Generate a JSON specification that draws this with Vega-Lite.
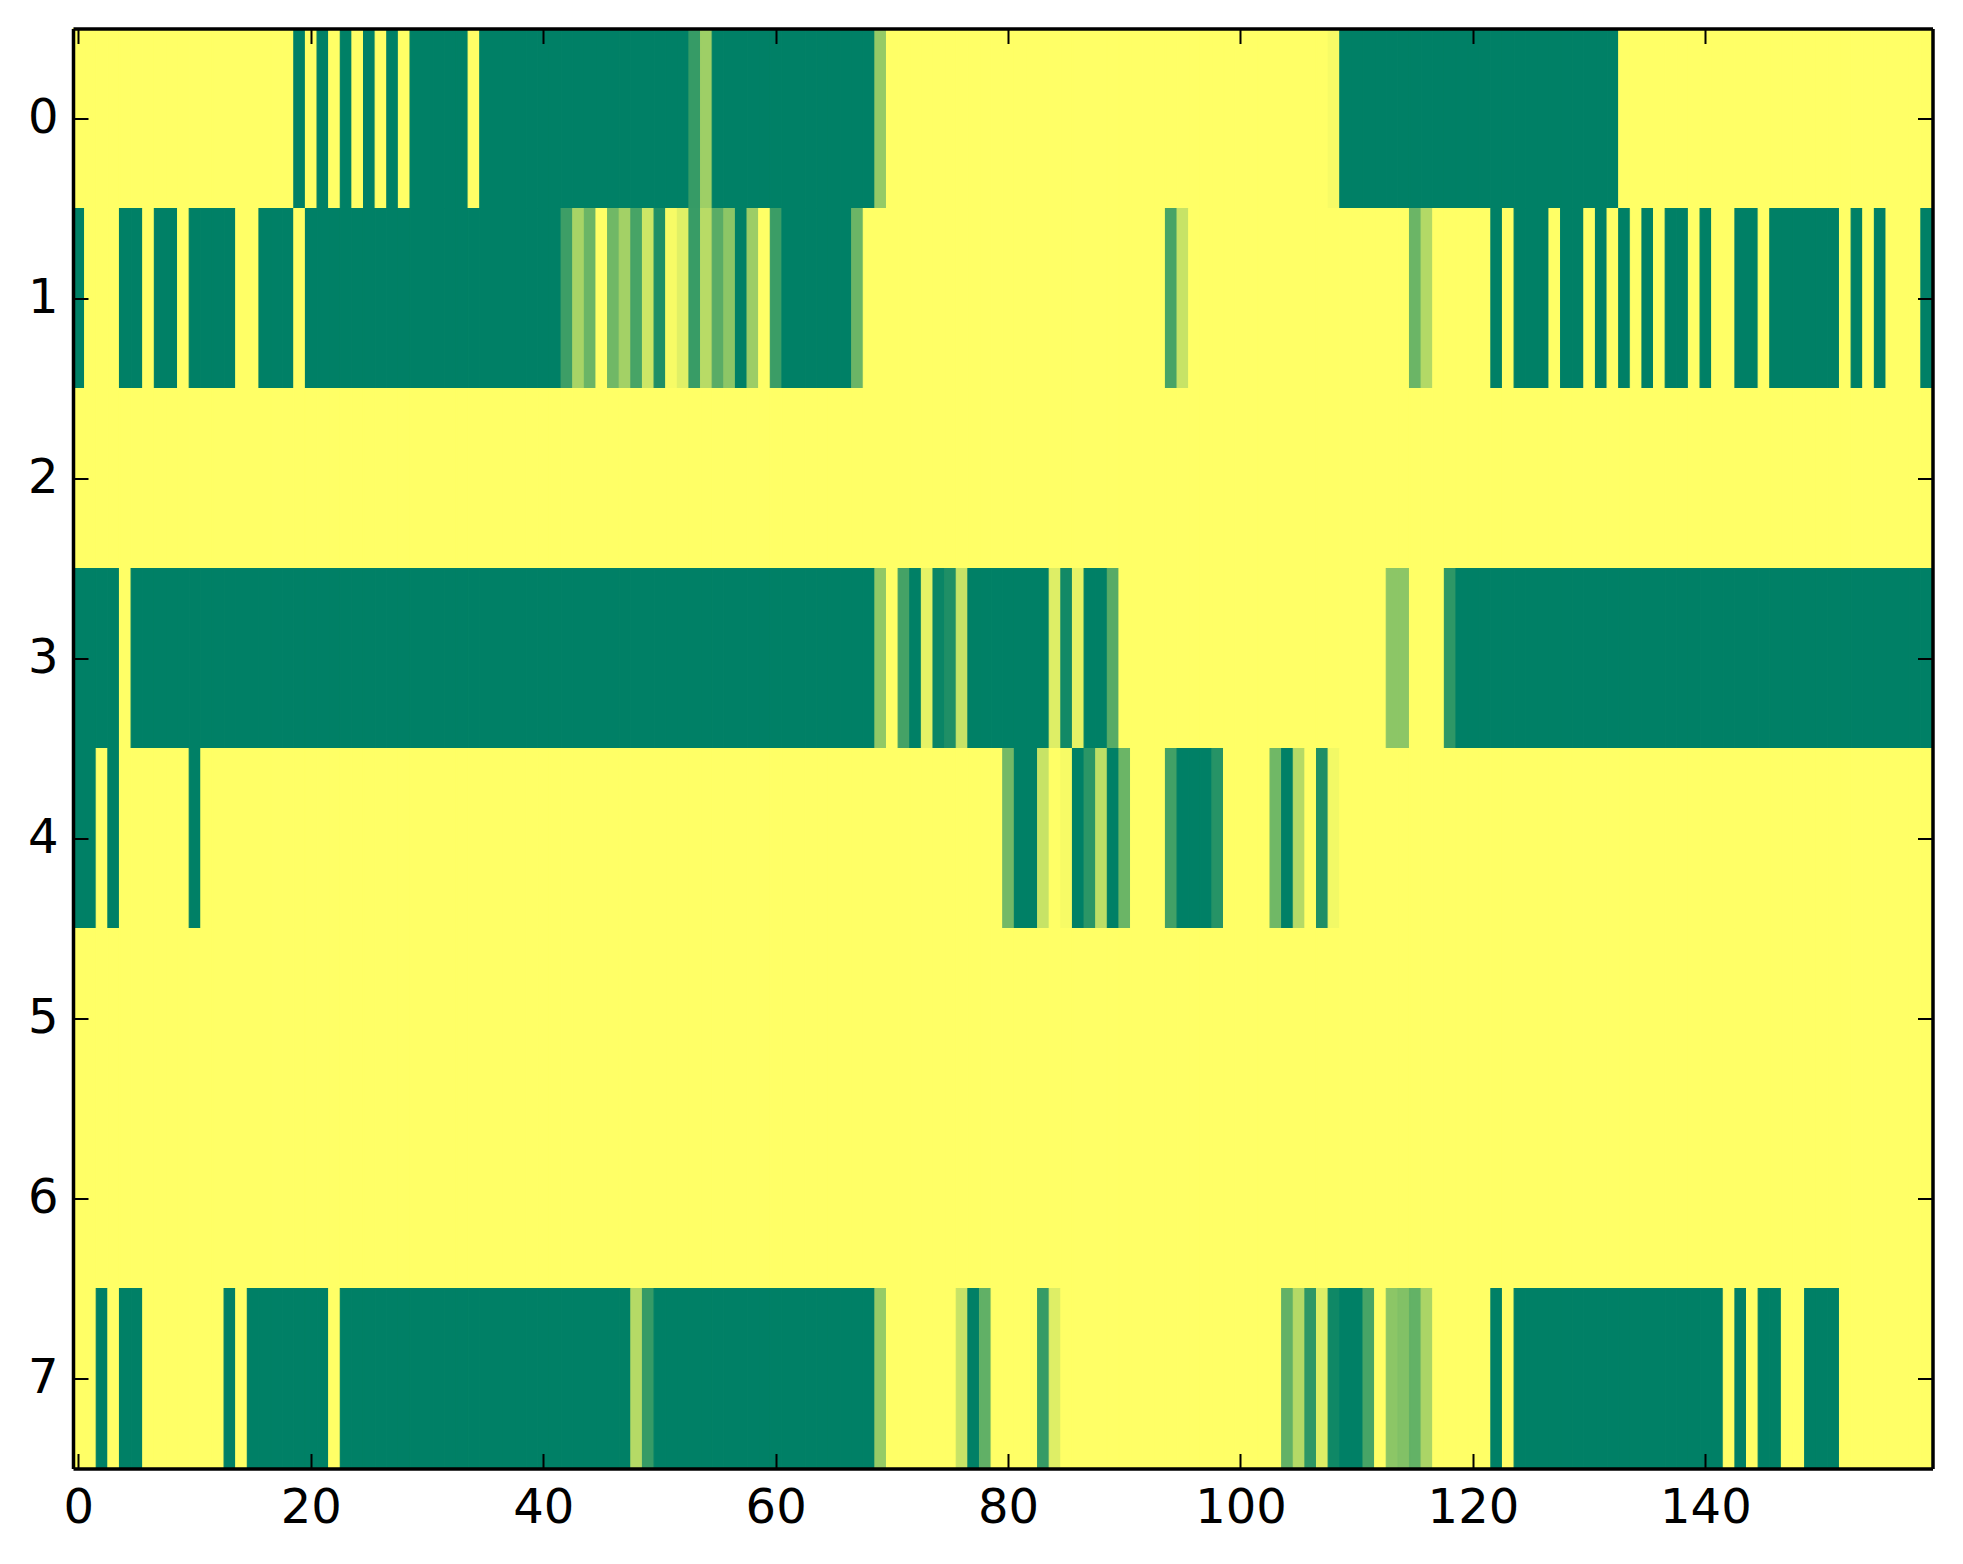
{
"$schema":"https://vega.github.io/schema/vega-lite/v6.json",
"width":1859.5,
"height":1440,
"autosize":"none",
"padding":{"left":73,"top":28.5,"right":30.5,"bottom":95.5},
"background":"white",
"config":{
"view":{"stroke":null},
"axis":{"title":null,"grid":false,"domainColor":"black","domainWidth":3.5,"tickColor":"black","tickWidth":2,"tickSize":-15,"labelFont":"DejaVu Sans","labelFontSize":48,"labelColor":"black","labelAngle":0}
},
"resolve":{"axis":{"x":"independent","y":"independent"}},
"layer":[
{"mark":{"type":"rect","strokeWidth":1.1},
"encoding":{
"x":{"field":"x","type":"ordinal","scale":{"paddingInner":0,"paddingOuter":0},"axis":{"orient":"bottom","zindex":1,"labelPadding":31,"values":[0,20,40,60,80,100,120,140]}},
"y":{"field":"y","type":"ordinal","scale":{"paddingInner":0,"paddingOuter":0},"axis":{"orient":"left","zindex":1,"labelPadding":30}},
"color":{"field":"v","type":"quantitative","scale":{"domain":[0,1],"range":["#ffff66","#008066"],"interpolate":"rgb"},"legend":null},
"stroke":{"field":"v","type":"quantitative","scale":{"domain":[0,1],"range":["#ffff66","#008066"],"interpolate":"rgb"},"legend":null}
}},
{"mark":{"type":"rect","opacity":0},
"encoding":{
"x":{"field":"x","type":"ordinal","axis":{"orient":"top","zindex":1,"values":[0,20,40,60,80,100,120,140],"labels":false}},
"y":{"field":"y","type":"ordinal","axis":{"orient":"right","zindex":1,"labels":false}}
}}
],
"data":{"values":[
{"x":0,"y":0,"v":0},{"x":1,"y":0,"v":0},{"x":2,"y":0,"v":0},{"x":3,"y":0,"v":0},{"x":4,"y":0,"v":0},{"x":5,"y":0,"v":0},{"x":6,"y":0,"v":0},{"x":7,"y":0,"v":0},{"x":8,"y":0,"v":0},{"x":9,"y":0,"v":0},
{"x":10,"y":0,"v":0},{"x":11,"y":0,"v":0},{"x":12,"y":0,"v":0},{"x":13,"y":0,"v":0},{"x":14,"y":0,"v":0},{"x":15,"y":0,"v":0},{"x":16,"y":0,"v":0},{"x":17,"y":0,"v":0},{"x":18,"y":0,"v":0},{"x":19,"y":0,"v":1},
{"x":20,"y":0,"v":0},{"x":21,"y":0,"v":1},{"x":22,"y":0,"v":0},{"x":23,"y":0,"v":1},{"x":24,"y":0,"v":0},{"x":25,"y":0,"v":1},{"x":26,"y":0,"v":0},{"x":27,"y":0,"v":1},{"x":28,"y":0,"v":0},{"x":29,"y":0,"v":1},
{"x":30,"y":0,"v":1},{"x":31,"y":0,"v":1},{"x":32,"y":0,"v":1},{"x":33,"y":0,"v":1},{"x":34,"y":0,"v":0},{"x":35,"y":0,"v":1},{"x":36,"y":0,"v":1},{"x":37,"y":0,"v":1},{"x":38,"y":0,"v":1},{"x":39,"y":0,"v":1},
{"x":40,"y":0,"v":1},{"x":41,"y":0,"v":1},{"x":42,"y":0,"v":1},{"x":43,"y":0,"v":1},{"x":44,"y":0,"v":1},{"x":45,"y":0,"v":1},{"x":46,"y":0,"v":1},{"x":47,"y":0,"v":1},{"x":48,"y":0,"v":1},{"x":49,"y":0,"v":1},
{"x":50,"y":0,"v":1},{"x":51,"y":0,"v":1},{"x":52,"y":0,"v":1},{"x":53,"y":0,"v":0.79},{"x":54,"y":0,"v":0.38},{"x":55,"y":0,"v":1},{"x":56,"y":0,"v":1},{"x":57,"y":0,"v":1},{"x":58,"y":0,"v":1},{"x":59,"y":0,"v":1},
{"x":60,"y":0,"v":1},{"x":61,"y":0,"v":1},{"x":62,"y":0,"v":1},{"x":63,"y":0,"v":1},{"x":64,"y":0,"v":1},{"x":65,"y":0,"v":1},{"x":66,"y":0,"v":1},{"x":67,"y":0,"v":1},{"x":68,"y":0,"v":1},{"x":69,"y":0,"v":0.42},
{"x":70,"y":0,"v":0},{"x":71,"y":0,"v":0},{"x":72,"y":0,"v":0},{"x":73,"y":0,"v":0},{"x":74,"y":0,"v":0},{"x":75,"y":0,"v":0},{"x":76,"y":0,"v":0},{"x":77,"y":0,"v":0},{"x":78,"y":0,"v":0},{"x":79,"y":0,"v":0},
{"x":80,"y":0,"v":0},{"x":81,"y":0,"v":0},{"x":82,"y":0,"v":0},{"x":83,"y":0,"v":0},{"x":84,"y":0,"v":0},{"x":85,"y":0,"v":0},{"x":86,"y":0,"v":0},{"x":87,"y":0,"v":0},{"x":88,"y":0,"v":0},{"x":89,"y":0,"v":0},
{"x":90,"y":0,"v":0},{"x":91,"y":0,"v":0},{"x":92,"y":0,"v":0},{"x":93,"y":0,"v":0},{"x":94,"y":0,"v":0},{"x":95,"y":0,"v":0},{"x":96,"y":0,"v":0},{"x":97,"y":0,"v":0},{"x":98,"y":0,"v":0},{"x":99,"y":0,"v":0},
{"x":100,"y":0,"v":0},{"x":101,"y":0,"v":0},{"x":102,"y":0,"v":0},{"x":103,"y":0,"v":0},{"x":104,"y":0,"v":0},{"x":105,"y":0,"v":0},{"x":106,"y":0,"v":0},{"x":107,"y":0,"v":0},{"x":108,"y":0,"v":0.03},{"x":109,"y":0,"v":1},
{"x":110,"y":0,"v":1},{"x":111,"y":0,"v":1},{"x":112,"y":0,"v":1},{"x":113,"y":0,"v":1},{"x":114,"y":0,"v":1},{"x":115,"y":0,"v":1},{"x":116,"y":0,"v":1},{"x":117,"y":0,"v":1},{"x":118,"y":0,"v":1},{"x":119,"y":0,"v":1},
{"x":120,"y":0,"v":1},{"x":121,"y":0,"v":1},{"x":122,"y":0,"v":1},{"x":123,"y":0,"v":1},{"x":124,"y":0,"v":1},{"x":125,"y":0,"v":1},{"x":126,"y":0,"v":1},{"x":127,"y":0,"v":1},{"x":128,"y":0,"v":1},{"x":129,"y":0,"v":1},
{"x":130,"y":0,"v":1},{"x":131,"y":0,"v":1},{"x":132,"y":0,"v":1},{"x":133,"y":0,"v":0},{"x":134,"y":0,"v":0},{"x":135,"y":0,"v":0},{"x":136,"y":0,"v":0},{"x":137,"y":0,"v":0},{"x":138,"y":0,"v":0},{"x":139,"y":0,"v":0},
{"x":140,"y":0,"v":0},{"x":141,"y":0,"v":0},{"x":142,"y":0,"v":0},{"x":143,"y":0,"v":0},{"x":144,"y":0,"v":0},{"x":145,"y":0,"v":0},{"x":146,"y":0,"v":0},{"x":147,"y":0,"v":0},{"x":148,"y":0,"v":0},{"x":149,"y":0,"v":0},
{"x":150,"y":0,"v":0},{"x":151,"y":0,"v":0},{"x":152,"y":0,"v":0},{"x":153,"y":0,"v":0},{"x":154,"y":0,"v":0},{"x":155,"y":0,"v":0},{"x":156,"y":0,"v":0},{"x":157,"y":0,"v":0},{"x":158,"y":0,"v":0},{"x":159,"y":0,"v":0},
{"x":0,"y":1,"v":1},{"x":1,"y":1,"v":0},{"x":2,"y":1,"v":0},{"x":3,"y":1,"v":0},{"x":4,"y":1,"v":1},{"x":5,"y":1,"v":1},{"x":6,"y":1,"v":0},{"x":7,"y":1,"v":1},{"x":8,"y":1,"v":1},{"x":9,"y":1,"v":0},
{"x":10,"y":1,"v":1},{"x":11,"y":1,"v":1},{"x":12,"y":1,"v":1},{"x":13,"y":1,"v":1},{"x":14,"y":1,"v":0},{"x":15,"y":1,"v":0},{"x":16,"y":1,"v":1},{"x":17,"y":1,"v":1},{"x":18,"y":1,"v":1},{"x":19,"y":1,"v":0},
{"x":20,"y":1,"v":1},{"x":21,"y":1,"v":1},{"x":22,"y":1,"v":1},{"x":23,"y":1,"v":1},{"x":24,"y":1,"v":1},{"x":25,"y":1,"v":1},{"x":26,"y":1,"v":1},{"x":27,"y":1,"v":1},{"x":28,"y":1,"v":1},{"x":29,"y":1,"v":1},
{"x":30,"y":1,"v":1},{"x":31,"y":1,"v":1},{"x":32,"y":1,"v":1},{"x":33,"y":1,"v":1},{"x":34,"y":1,"v":1},{"x":35,"y":1,"v":1},{"x":36,"y":1,"v":1},{"x":37,"y":1,"v":1},{"x":38,"y":1,"v":1},{"x":39,"y":1,"v":1},
{"x":40,"y":1,"v":1},{"x":41,"y":1,"v":1},{"x":42,"y":1,"v":0.76},{"x":43,"y":1,"v":0.34},{"x":44,"y":1,"v":0.58},{"x":45,"y":1,"v":0},{"x":46,"y":1,"v":0.56},{"x":47,"y":1,"v":0.36},{"x":48,"y":1,"v":0.72},{"x":49,"y":1,"v":0.2},
{"x":50,"y":1,"v":0.88},{"x":51,"y":1,"v":0.03},{"x":52,"y":1,"v":0.12},{"x":53,"y":1,"v":0.78},{"x":54,"y":1,"v":0.28},{"x":55,"y":1,"v":0.65},{"x":56,"y":1,"v":0.45},{"x":57,"y":1,"v":1},{"x":58,"y":1,"v":0.39},{"x":59,"y":1,"v":0},
{"x":60,"y":1,"v":0.77},{"x":61,"y":1,"v":1},{"x":62,"y":1,"v":1},{"x":63,"y":1,"v":1},{"x":64,"y":1,"v":1},{"x":65,"y":1,"v":1},{"x":66,"y":1,"v":1},{"x":67,"y":1,"v":0.58},{"x":68,"y":1,"v":0},{"x":69,"y":1,"v":0},
{"x":70,"y":1,"v":0},{"x":71,"y":1,"v":0},{"x":72,"y":1,"v":0},{"x":73,"y":1,"v":0},{"x":74,"y":1,"v":0},{"x":75,"y":1,"v":0},{"x":76,"y":1,"v":0},{"x":77,"y":1,"v":0},{"x":78,"y":1,"v":0},{"x":79,"y":1,"v":0},
{"x":80,"y":1,"v":0},{"x":81,"y":1,"v":0},{"x":82,"y":1,"v":0},{"x":83,"y":1,"v":0},{"x":84,"y":1,"v":0},{"x":85,"y":1,"v":0},{"x":86,"y":1,"v":0},{"x":87,"y":1,"v":0},{"x":88,"y":1,"v":0},{"x":89,"y":1,"v":0},
{"x":90,"y":1,"v":0},{"x":91,"y":1,"v":0},{"x":92,"y":1,"v":0},{"x":93,"y":1,"v":0},{"x":94,"y":1,"v":0.72},{"x":95,"y":1,"v":0.22},{"x":96,"y":1,"v":0},{"x":97,"y":1,"v":0},{"x":98,"y":1,"v":0},{"x":99,"y":1,"v":0},
{"x":100,"y":1,"v":0},{"x":101,"y":1,"v":0},{"x":102,"y":1,"v":0},{"x":103,"y":1,"v":0},{"x":104,"y":1,"v":0},{"x":105,"y":1,"v":0},{"x":106,"y":1,"v":0},{"x":107,"y":1,"v":0},{"x":108,"y":1,"v":0},{"x":109,"y":1,"v":0},
{"x":110,"y":1,"v":0},{"x":111,"y":1,"v":0},{"x":112,"y":1,"v":0},{"x":113,"y":1,"v":0},{"x":114,"y":1,"v":0},{"x":115,"y":1,"v":0.58},{"x":116,"y":1,"v":0.3},{"x":117,"y":1,"v":0},{"x":118,"y":1,"v":0},{"x":119,"y":1,"v":0},
{"x":120,"y":1,"v":0},{"x":121,"y":1,"v":0},{"x":122,"y":1,"v":1},{"x":123,"y":1,"v":0},{"x":124,"y":1,"v":1},{"x":125,"y":1,"v":1},{"x":126,"y":1,"v":1},{"x":127,"y":1,"v":0},{"x":128,"y":1,"v":1},{"x":129,"y":1,"v":1},
{"x":130,"y":1,"v":0},{"x":131,"y":1,"v":1},{"x":132,"y":1,"v":0},{"x":133,"y":1,"v":1},{"x":134,"y":1,"v":0},{"x":135,"y":1,"v":1},{"x":136,"y":1,"v":0},{"x":137,"y":1,"v":1},{"x":138,"y":1,"v":1},{"x":139,"y":1,"v":0},
{"x":140,"y":1,"v":1},{"x":141,"y":1,"v":0},{"x":142,"y":1,"v":0},{"x":143,"y":1,"v":1},{"x":144,"y":1,"v":1},{"x":145,"y":1,"v":0},{"x":146,"y":1,"v":1},{"x":147,"y":1,"v":1},{"x":148,"y":1,"v":1},{"x":149,"y":1,"v":1},
{"x":150,"y":1,"v":1},{"x":151,"y":1,"v":1},{"x":152,"y":1,"v":0},{"x":153,"y":1,"v":1},{"x":154,"y":1,"v":0},{"x":155,"y":1,"v":1},{"x":156,"y":1,"v":0},{"x":157,"y":1,"v":0},{"x":158,"y":1,"v":0},{"x":159,"y":1,"v":1},
{"x":0,"y":2,"v":0},{"x":1,"y":2,"v":0},{"x":2,"y":2,"v":0},{"x":3,"y":2,"v":0},{"x":4,"y":2,"v":0},{"x":5,"y":2,"v":0},{"x":6,"y":2,"v":0},{"x":7,"y":2,"v":0},{"x":8,"y":2,"v":0},{"x":9,"y":2,"v":0},
{"x":10,"y":2,"v":0},{"x":11,"y":2,"v":0},{"x":12,"y":2,"v":0},{"x":13,"y":2,"v":0},{"x":14,"y":2,"v":0},{"x":15,"y":2,"v":0},{"x":16,"y":2,"v":0},{"x":17,"y":2,"v":0},{"x":18,"y":2,"v":0},{"x":19,"y":2,"v":0},
{"x":20,"y":2,"v":0},{"x":21,"y":2,"v":0},{"x":22,"y":2,"v":0},{"x":23,"y":2,"v":0},{"x":24,"y":2,"v":0},{"x":25,"y":2,"v":0},{"x":26,"y":2,"v":0},{"x":27,"y":2,"v":0},{"x":28,"y":2,"v":0},{"x":29,"y":2,"v":0},
{"x":30,"y":2,"v":0},{"x":31,"y":2,"v":0},{"x":32,"y":2,"v":0},{"x":33,"y":2,"v":0},{"x":34,"y":2,"v":0},{"x":35,"y":2,"v":0},{"x":36,"y":2,"v":0},{"x":37,"y":2,"v":0},{"x":38,"y":2,"v":0},{"x":39,"y":2,"v":0},
{"x":40,"y":2,"v":0},{"x":41,"y":2,"v":0},{"x":42,"y":2,"v":0},{"x":43,"y":2,"v":0},{"x":44,"y":2,"v":0},{"x":45,"y":2,"v":0},{"x":46,"y":2,"v":0},{"x":47,"y":2,"v":0},{"x":48,"y":2,"v":0},{"x":49,"y":2,"v":0},
{"x":50,"y":2,"v":0},{"x":51,"y":2,"v":0},{"x":52,"y":2,"v":0},{"x":53,"y":2,"v":0},{"x":54,"y":2,"v":0},{"x":55,"y":2,"v":0},{"x":56,"y":2,"v":0},{"x":57,"y":2,"v":0},{"x":58,"y":2,"v":0},{"x":59,"y":2,"v":0},
{"x":60,"y":2,"v":0},{"x":61,"y":2,"v":0},{"x":62,"y":2,"v":0},{"x":63,"y":2,"v":0},{"x":64,"y":2,"v":0},{"x":65,"y":2,"v":0},{"x":66,"y":2,"v":0},{"x":67,"y":2,"v":0},{"x":68,"y":2,"v":0},{"x":69,"y":2,"v":0},
{"x":70,"y":2,"v":0},{"x":71,"y":2,"v":0},{"x":72,"y":2,"v":0},{"x":73,"y":2,"v":0},{"x":74,"y":2,"v":0},{"x":75,"y":2,"v":0},{"x":76,"y":2,"v":0},{"x":77,"y":2,"v":0},{"x":78,"y":2,"v":0},{"x":79,"y":2,"v":0},
{"x":80,"y":2,"v":0},{"x":81,"y":2,"v":0},{"x":82,"y":2,"v":0},{"x":83,"y":2,"v":0},{"x":84,"y":2,"v":0},{"x":85,"y":2,"v":0},{"x":86,"y":2,"v":0},{"x":87,"y":2,"v":0},{"x":88,"y":2,"v":0},{"x":89,"y":2,"v":0},
{"x":90,"y":2,"v":0},{"x":91,"y":2,"v":0},{"x":92,"y":2,"v":0},{"x":93,"y":2,"v":0},{"x":94,"y":2,"v":0},{"x":95,"y":2,"v":0},{"x":96,"y":2,"v":0},{"x":97,"y":2,"v":0},{"x":98,"y":2,"v":0},{"x":99,"y":2,"v":0},
{"x":100,"y":2,"v":0},{"x":101,"y":2,"v":0},{"x":102,"y":2,"v":0},{"x":103,"y":2,"v":0},{"x":104,"y":2,"v":0},{"x":105,"y":2,"v":0},{"x":106,"y":2,"v":0},{"x":107,"y":2,"v":0},{"x":108,"y":2,"v":0},{"x":109,"y":2,"v":0},
{"x":110,"y":2,"v":0},{"x":111,"y":2,"v":0},{"x":112,"y":2,"v":0},{"x":113,"y":2,"v":0},{"x":114,"y":2,"v":0},{"x":115,"y":2,"v":0},{"x":116,"y":2,"v":0},{"x":117,"y":2,"v":0},{"x":118,"y":2,"v":0},{"x":119,"y":2,"v":0},
{"x":120,"y":2,"v":0},{"x":121,"y":2,"v":0},{"x":122,"y":2,"v":0},{"x":123,"y":2,"v":0},{"x":124,"y":2,"v":0},{"x":125,"y":2,"v":0},{"x":126,"y":2,"v":0},{"x":127,"y":2,"v":0},{"x":128,"y":2,"v":0},{"x":129,"y":2,"v":0},
{"x":130,"y":2,"v":0},{"x":131,"y":2,"v":0},{"x":132,"y":2,"v":0},{"x":133,"y":2,"v":0},{"x":134,"y":2,"v":0},{"x":135,"y":2,"v":0},{"x":136,"y":2,"v":0},{"x":137,"y":2,"v":0},{"x":138,"y":2,"v":0},{"x":139,"y":2,"v":0},
{"x":140,"y":2,"v":0},{"x":141,"y":2,"v":0},{"x":142,"y":2,"v":0},{"x":143,"y":2,"v":0},{"x":144,"y":2,"v":0},{"x":145,"y":2,"v":0},{"x":146,"y":2,"v":0},{"x":147,"y":2,"v":0},{"x":148,"y":2,"v":0},{"x":149,"y":2,"v":0},
{"x":150,"y":2,"v":0},{"x":151,"y":2,"v":0},{"x":152,"y":2,"v":0},{"x":153,"y":2,"v":0},{"x":154,"y":2,"v":0},{"x":155,"y":2,"v":0},{"x":156,"y":2,"v":0},{"x":157,"y":2,"v":0},{"x":158,"y":2,"v":0},{"x":159,"y":2,"v":0},
{"x":0,"y":3,"v":1},{"x":1,"y":3,"v":1},{"x":2,"y":3,"v":1},{"x":3,"y":3,"v":1},{"x":4,"y":3,"v":0},{"x":5,"y":3,"v":1},{"x":6,"y":3,"v":1},{"x":7,"y":3,"v":1},{"x":8,"y":3,"v":1},{"x":9,"y":3,"v":1},
{"x":10,"y":3,"v":1},{"x":11,"y":3,"v":1},{"x":12,"y":3,"v":1},{"x":13,"y":3,"v":1},{"x":14,"y":3,"v":1},{"x":15,"y":3,"v":1},{"x":16,"y":3,"v":1},{"x":17,"y":3,"v":1},{"x":18,"y":3,"v":1},{"x":19,"y":3,"v":1},
{"x":20,"y":3,"v":1},{"x":21,"y":3,"v":1},{"x":22,"y":3,"v":1},{"x":23,"y":3,"v":1},{"x":24,"y":3,"v":1},{"x":25,"y":3,"v":1},{"x":26,"y":3,"v":1},{"x":27,"y":3,"v":1},{"x":28,"y":3,"v":1},{"x":29,"y":3,"v":1},
{"x":30,"y":3,"v":1},{"x":31,"y":3,"v":1},{"x":32,"y":3,"v":1},{"x":33,"y":3,"v":1},{"x":34,"y":3,"v":1},{"x":35,"y":3,"v":1},{"x":36,"y":3,"v":1},{"x":37,"y":3,"v":1},{"x":38,"y":3,"v":1},{"x":39,"y":3,"v":1},
{"x":40,"y":3,"v":1},{"x":41,"y":3,"v":1},{"x":42,"y":3,"v":1},{"x":43,"y":3,"v":1},{"x":44,"y":3,"v":1},{"x":45,"y":3,"v":1},{"x":46,"y":3,"v":1},{"x":47,"y":3,"v":1},{"x":48,"y":3,"v":1},{"x":49,"y":3,"v":1},
{"x":50,"y":3,"v":1},{"x":51,"y":3,"v":1},{"x":52,"y":3,"v":1},{"x":53,"y":3,"v":1},{"x":54,"y":3,"v":1},{"x":55,"y":3,"v":1},{"x":56,"y":3,"v":1},{"x":57,"y":3,"v":1},{"x":58,"y":3,"v":1},{"x":59,"y":3,"v":1},
{"x":60,"y":3,"v":1},{"x":61,"y":3,"v":1},{"x":62,"y":3,"v":1},{"x":63,"y":3,"v":1},{"x":64,"y":3,"v":1},{"x":65,"y":3,"v":1},{"x":66,"y":3,"v":1},{"x":67,"y":3,"v":1},{"x":68,"y":3,"v":1},{"x":69,"y":3,"v":0.43},
{"x":70,"y":3,"v":0},{"x":71,"y":3,"v":0.73},{"x":72,"y":3,"v":1},{"x":73,"y":3,"v":0.1},{"x":74,"y":3,"v":0.96},{"x":75,"y":3,"v":0.88},{"x":76,"y":3,"v":0.22},{"x":77,"y":3,"v":1},{"x":78,"y":3,"v":1},{"x":79,"y":3,"v":1},
{"x":80,"y":3,"v":1},{"x":81,"y":3,"v":1},{"x":82,"y":3,"v":1},{"x":83,"y":3,"v":1},{"x":84,"y":3,"v":0.13},{"x":85,"y":3,"v":0.93},{"x":86,"y":3,"v":0.1},{"x":87,"y":3,"v":1},{"x":88,"y":3,"v":1},{"x":89,"y":3,"v":0.66},
{"x":90,"y":3,"v":0},{"x":91,"y":3,"v":0},{"x":92,"y":3,"v":0},{"x":93,"y":3,"v":0},{"x":94,"y":3,"v":0},{"x":95,"y":3,"v":0},{"x":96,"y":3,"v":0},{"x":97,"y":3,"v":0},{"x":98,"y":3,"v":0},{"x":99,"y":3,"v":0},
{"x":100,"y":3,"v":0},{"x":101,"y":3,"v":0},{"x":102,"y":3,"v":0},{"x":103,"y":3,"v":0},{"x":104,"y":3,"v":0},{"x":105,"y":3,"v":0},{"x":106,"y":3,"v":0},{"x":107,"y":3,"v":0},{"x":108,"y":3,"v":0},{"x":109,"y":3,"v":0},
{"x":110,"y":3,"v":0},{"x":111,"y":3,"v":0},{"x":112,"y":3,"v":0},{"x":113,"y":3,"v":0.45},{"x":114,"y":3,"v":0.45},{"x":115,"y":3,"v":0},{"x":116,"y":3,"v":0},{"x":117,"y":3,"v":0},{"x":118,"y":3,"v":0.82},{"x":119,"y":3,"v":1},
{"x":120,"y":3,"v":1},{"x":121,"y":3,"v":1},{"x":122,"y":3,"v":1},{"x":123,"y":3,"v":1},{"x":124,"y":3,"v":1},{"x":125,"y":3,"v":1},{"x":126,"y":3,"v":1},{"x":127,"y":3,"v":1},{"x":128,"y":3,"v":1},{"x":129,"y":3,"v":1},
{"x":130,"y":3,"v":1},{"x":131,"y":3,"v":1},{"x":132,"y":3,"v":1},{"x":133,"y":3,"v":1},{"x":134,"y":3,"v":1},{"x":135,"y":3,"v":1},{"x":136,"y":3,"v":1},{"x":137,"y":3,"v":1},{"x":138,"y":3,"v":1},{"x":139,"y":3,"v":1},
{"x":140,"y":3,"v":1},{"x":141,"y":3,"v":1},{"x":142,"y":3,"v":1},{"x":143,"y":3,"v":1},{"x":144,"y":3,"v":1},{"x":145,"y":3,"v":1},{"x":146,"y":3,"v":1},{"x":147,"y":3,"v":1},{"x":148,"y":3,"v":1},{"x":149,"y":3,"v":1},
{"x":150,"y":3,"v":1},{"x":151,"y":3,"v":1},{"x":152,"y":3,"v":1},{"x":153,"y":3,"v":1},{"x":154,"y":3,"v":1},{"x":155,"y":3,"v":1},{"x":156,"y":3,"v":1},{"x":157,"y":3,"v":1},{"x":158,"y":3,"v":1},{"x":159,"y":3,"v":1},
{"x":0,"y":4,"v":1},{"x":1,"y":4,"v":1},{"x":2,"y":4,"v":0},{"x":3,"y":4,"v":1},{"x":4,"y":4,"v":0},{"x":5,"y":4,"v":0},{"x":6,"y":4,"v":0},{"x":7,"y":4,"v":0},{"x":8,"y":4,"v":0},{"x":9,"y":4,"v":0},
{"x":10,"y":4,"v":1},{"x":11,"y":4,"v":0},{"x":12,"y":4,"v":0},{"x":13,"y":4,"v":0},{"x":14,"y":4,"v":0},{"x":15,"y":4,"v":0},{"x":16,"y":4,"v":0},{"x":17,"y":4,"v":0},{"x":18,"y":4,"v":0},{"x":19,"y":4,"v":0},
{"x":20,"y":4,"v":0},{"x":21,"y":4,"v":0},{"x":22,"y":4,"v":0},{"x":23,"y":4,"v":0},{"x":24,"y":4,"v":0},{"x":25,"y":4,"v":0},{"x":26,"y":4,"v":0},{"x":27,"y":4,"v":0},{"x":28,"y":4,"v":0},{"x":29,"y":4,"v":0},
{"x":30,"y":4,"v":0},{"x":31,"y":4,"v":0},{"x":32,"y":4,"v":0},{"x":33,"y":4,"v":0},{"x":34,"y":4,"v":0},{"x":35,"y":4,"v":0},{"x":36,"y":4,"v":0},{"x":37,"y":4,"v":0},{"x":38,"y":4,"v":0},{"x":39,"y":4,"v":0},
{"x":40,"y":4,"v":0},{"x":41,"y":4,"v":0},{"x":42,"y":4,"v":0},{"x":43,"y":4,"v":0},{"x":44,"y":4,"v":0},{"x":45,"y":4,"v":0},{"x":46,"y":4,"v":0},{"x":47,"y":4,"v":0},{"x":48,"y":4,"v":0},{"x":49,"y":4,"v":0},
{"x":50,"y":4,"v":0},{"x":51,"y":4,"v":0},{"x":52,"y":4,"v":0},{"x":53,"y":4,"v":0},{"x":54,"y":4,"v":0},{"x":55,"y":4,"v":0},{"x":56,"y":4,"v":0},{"x":57,"y":4,"v":0},{"x":58,"y":4,"v":0},{"x":59,"y":4,"v":0},
{"x":60,"y":4,"v":0},{"x":61,"y":4,"v":0},{"x":62,"y":4,"v":0},{"x":63,"y":4,"v":0},{"x":64,"y":4,"v":0},{"x":65,"y":4,"v":0},{"x":66,"y":4,"v":0},{"x":67,"y":4,"v":0},{"x":68,"y":4,"v":0},{"x":69,"y":4,"v":0},
{"x":70,"y":4,"v":0},{"x":71,"y":4,"v":0},{"x":72,"y":4,"v":0},{"x":73,"y":4,"v":0},{"x":74,"y":4,"v":0},{"x":75,"y":4,"v":0},{"x":76,"y":4,"v":0},{"x":77,"y":4,"v":0},{"x":78,"y":4,"v":0},{"x":79,"y":4,"v":0},
{"x":80,"y":4,"v":0.55},{"x":81,"y":4,"v":1},{"x":82,"y":4,"v":1},{"x":83,"y":4,"v":0.22},{"x":84,"y":4,"v":0},{"x":85,"y":4,"v":0.03},{"x":86,"y":4,"v":1},{"x":87,"y":4,"v":0.83},{"x":88,"y":4,"v":0.26},{"x":89,"y":4,"v":1},
{"x":90,"y":4,"v":0.58},{"x":91,"y":4,"v":0},{"x":92,"y":4,"v":0},{"x":93,"y":4,"v":0},{"x":94,"y":4,"v":0.74},{"x":95,"y":4,"v":1},{"x":96,"y":4,"v":1},{"x":97,"y":4,"v":1},{"x":98,"y":4,"v":0.85},{"x":99,"y":4,"v":0},
{"x":100,"y":4,"v":0},{"x":101,"y":4,"v":0},{"x":102,"y":4,"v":0},{"x":103,"y":4,"v":0.56},{"x":104,"y":4,"v":1},{"x":105,"y":4,"v":0.29},{"x":106,"y":4,"v":0},{"x":107,"y":4,"v":0.88},{"x":108,"y":4,"v":0.05},{"x":109,"y":4,"v":0},
{"x":110,"y":4,"v":0},{"x":111,"y":4,"v":0},{"x":112,"y":4,"v":0},{"x":113,"y":4,"v":0},{"x":114,"y":4,"v":0},{"x":115,"y":4,"v":0},{"x":116,"y":4,"v":0},{"x":117,"y":4,"v":0},{"x":118,"y":4,"v":0},{"x":119,"y":4,"v":0},
{"x":120,"y":4,"v":0},{"x":121,"y":4,"v":0},{"x":122,"y":4,"v":0},{"x":123,"y":4,"v":0},{"x":124,"y":4,"v":0},{"x":125,"y":4,"v":0},{"x":126,"y":4,"v":0},{"x":127,"y":4,"v":0},{"x":128,"y":4,"v":0},{"x":129,"y":4,"v":0},
{"x":130,"y":4,"v":0},{"x":131,"y":4,"v":0},{"x":132,"y":4,"v":0},{"x":133,"y":4,"v":0},{"x":134,"y":4,"v":0},{"x":135,"y":4,"v":0},{"x":136,"y":4,"v":0},{"x":137,"y":4,"v":0},{"x":138,"y":4,"v":0},{"x":139,"y":4,"v":0},
{"x":140,"y":4,"v":0},{"x":141,"y":4,"v":0},{"x":142,"y":4,"v":0},{"x":143,"y":4,"v":0},{"x":144,"y":4,"v":0},{"x":145,"y":4,"v":0},{"x":146,"y":4,"v":0},{"x":147,"y":4,"v":0},{"x":148,"y":4,"v":0},{"x":149,"y":4,"v":0},
{"x":150,"y":4,"v":0},{"x":151,"y":4,"v":0},{"x":152,"y":4,"v":0},{"x":153,"y":4,"v":0},{"x":154,"y":4,"v":0},{"x":155,"y":4,"v":0},{"x":156,"y":4,"v":0},{"x":157,"y":4,"v":0},{"x":158,"y":4,"v":0},{"x":159,"y":4,"v":0},
{"x":0,"y":5,"v":0},{"x":1,"y":5,"v":0},{"x":2,"y":5,"v":0},{"x":3,"y":5,"v":0},{"x":4,"y":5,"v":0},{"x":5,"y":5,"v":0},{"x":6,"y":5,"v":0},{"x":7,"y":5,"v":0},{"x":8,"y":5,"v":0},{"x":9,"y":5,"v":0},
{"x":10,"y":5,"v":0},{"x":11,"y":5,"v":0},{"x":12,"y":5,"v":0},{"x":13,"y":5,"v":0},{"x":14,"y":5,"v":0},{"x":15,"y":5,"v":0},{"x":16,"y":5,"v":0},{"x":17,"y":5,"v":0},{"x":18,"y":5,"v":0},{"x":19,"y":5,"v":0},
{"x":20,"y":5,"v":0},{"x":21,"y":5,"v":0},{"x":22,"y":5,"v":0},{"x":23,"y":5,"v":0},{"x":24,"y":5,"v":0},{"x":25,"y":5,"v":0},{"x":26,"y":5,"v":0},{"x":27,"y":5,"v":0},{"x":28,"y":5,"v":0},{"x":29,"y":5,"v":0},
{"x":30,"y":5,"v":0},{"x":31,"y":5,"v":0},{"x":32,"y":5,"v":0},{"x":33,"y":5,"v":0},{"x":34,"y":5,"v":0},{"x":35,"y":5,"v":0},{"x":36,"y":5,"v":0},{"x":37,"y":5,"v":0},{"x":38,"y":5,"v":0},{"x":39,"y":5,"v":0},
{"x":40,"y":5,"v":0},{"x":41,"y":5,"v":0},{"x":42,"y":5,"v":0},{"x":43,"y":5,"v":0},{"x":44,"y":5,"v":0},{"x":45,"y":5,"v":0},{"x":46,"y":5,"v":0},{"x":47,"y":5,"v":0},{"x":48,"y":5,"v":0},{"x":49,"y":5,"v":0},
{"x":50,"y":5,"v":0},{"x":51,"y":5,"v":0},{"x":52,"y":5,"v":0},{"x":53,"y":5,"v":0},{"x":54,"y":5,"v":0},{"x":55,"y":5,"v":0},{"x":56,"y":5,"v":0},{"x":57,"y":5,"v":0},{"x":58,"y":5,"v":0},{"x":59,"y":5,"v":0},
{"x":60,"y":5,"v":0},{"x":61,"y":5,"v":0},{"x":62,"y":5,"v":0},{"x":63,"y":5,"v":0},{"x":64,"y":5,"v":0},{"x":65,"y":5,"v":0},{"x":66,"y":5,"v":0},{"x":67,"y":5,"v":0},{"x":68,"y":5,"v":0},{"x":69,"y":5,"v":0},
{"x":70,"y":5,"v":0},{"x":71,"y":5,"v":0},{"x":72,"y":5,"v":0},{"x":73,"y":5,"v":0},{"x":74,"y":5,"v":0},{"x":75,"y":5,"v":0},{"x":76,"y":5,"v":0},{"x":77,"y":5,"v":0},{"x":78,"y":5,"v":0},{"x":79,"y":5,"v":0},
{"x":80,"y":5,"v":0},{"x":81,"y":5,"v":0},{"x":82,"y":5,"v":0},{"x":83,"y":5,"v":0},{"x":84,"y":5,"v":0},{"x":85,"y":5,"v":0},{"x":86,"y":5,"v":0},{"x":87,"y":5,"v":0},{"x":88,"y":5,"v":0},{"x":89,"y":5,"v":0},
{"x":90,"y":5,"v":0},{"x":91,"y":5,"v":0},{"x":92,"y":5,"v":0},{"x":93,"y":5,"v":0},{"x":94,"y":5,"v":0},{"x":95,"y":5,"v":0},{"x":96,"y":5,"v":0},{"x":97,"y":5,"v":0},{"x":98,"y":5,"v":0},{"x":99,"y":5,"v":0},
{"x":100,"y":5,"v":0},{"x":101,"y":5,"v":0},{"x":102,"y":5,"v":0},{"x":103,"y":5,"v":0},{"x":104,"y":5,"v":0},{"x":105,"y":5,"v":0},{"x":106,"y":5,"v":0},{"x":107,"y":5,"v":0},{"x":108,"y":5,"v":0},{"x":109,"y":5,"v":0},
{"x":110,"y":5,"v":0},{"x":111,"y":5,"v":0},{"x":112,"y":5,"v":0},{"x":113,"y":5,"v":0},{"x":114,"y":5,"v":0},{"x":115,"y":5,"v":0},{"x":116,"y":5,"v":0},{"x":117,"y":5,"v":0},{"x":118,"y":5,"v":0},{"x":119,"y":5,"v":0},
{"x":120,"y":5,"v":0},{"x":121,"y":5,"v":0},{"x":122,"y":5,"v":0},{"x":123,"y":5,"v":0},{"x":124,"y":5,"v":0},{"x":125,"y":5,"v":0},{"x":126,"y":5,"v":0},{"x":127,"y":5,"v":0},{"x":128,"y":5,"v":0},{"x":129,"y":5,"v":0},
{"x":130,"y":5,"v":0},{"x":131,"y":5,"v":0},{"x":132,"y":5,"v":0},{"x":133,"y":5,"v":0},{"x":134,"y":5,"v":0},{"x":135,"y":5,"v":0},{"x":136,"y":5,"v":0},{"x":137,"y":5,"v":0},{"x":138,"y":5,"v":0},{"x":139,"y":5,"v":0},
{"x":140,"y":5,"v":0},{"x":141,"y":5,"v":0},{"x":142,"y":5,"v":0},{"x":143,"y":5,"v":0},{"x":144,"y":5,"v":0},{"x":145,"y":5,"v":0},{"x":146,"y":5,"v":0},{"x":147,"y":5,"v":0},{"x":148,"y":5,"v":0},{"x":149,"y":5,"v":0},
{"x":150,"y":5,"v":0},{"x":151,"y":5,"v":0},{"x":152,"y":5,"v":0},{"x":153,"y":5,"v":0},{"x":154,"y":5,"v":0},{"x":155,"y":5,"v":0},{"x":156,"y":5,"v":0},{"x":157,"y":5,"v":0},{"x":158,"y":5,"v":0},{"x":159,"y":5,"v":0},
{"x":0,"y":6,"v":0},{"x":1,"y":6,"v":0},{"x":2,"y":6,"v":0},{"x":3,"y":6,"v":0},{"x":4,"y":6,"v":0},{"x":5,"y":6,"v":0},{"x":6,"y":6,"v":0},{"x":7,"y":6,"v":0},{"x":8,"y":6,"v":0},{"x":9,"y":6,"v":0},
{"x":10,"y":6,"v":0},{"x":11,"y":6,"v":0},{"x":12,"y":6,"v":0},{"x":13,"y":6,"v":0},{"x":14,"y":6,"v":0},{"x":15,"y":6,"v":0},{"x":16,"y":6,"v":0},{"x":17,"y":6,"v":0},{"x":18,"y":6,"v":0},{"x":19,"y":6,"v":0},
{"x":20,"y":6,"v":0},{"x":21,"y":6,"v":0},{"x":22,"y":6,"v":0},{"x":23,"y":6,"v":0},{"x":24,"y":6,"v":0},{"x":25,"y":6,"v":0},{"x":26,"y":6,"v":0},{"x":27,"y":6,"v":0},{"x":28,"y":6,"v":0},{"x":29,"y":6,"v":0},
{"x":30,"y":6,"v":0},{"x":31,"y":6,"v":0},{"x":32,"y":6,"v":0},{"x":33,"y":6,"v":0},{"x":34,"y":6,"v":0},{"x":35,"y":6,"v":0},{"x":36,"y":6,"v":0},{"x":37,"y":6,"v":0},{"x":38,"y":6,"v":0},{"x":39,"y":6,"v":0},
{"x":40,"y":6,"v":0},{"x":41,"y":6,"v":0},{"x":42,"y":6,"v":0},{"x":43,"y":6,"v":0},{"x":44,"y":6,"v":0},{"x":45,"y":6,"v":0},{"x":46,"y":6,"v":0},{"x":47,"y":6,"v":0},{"x":48,"y":6,"v":0},{"x":49,"y":6,"v":0},
{"x":50,"y":6,"v":0},{"x":51,"y":6,"v":0},{"x":52,"y":6,"v":0},{"x":53,"y":6,"v":0},{"x":54,"y":6,"v":0},{"x":55,"y":6,"v":0},{"x":56,"y":6,"v":0},{"x":57,"y":6,"v":0},{"x":58,"y":6,"v":0},{"x":59,"y":6,"v":0},
{"x":60,"y":6,"v":0},{"x":61,"y":6,"v":0},{"x":62,"y":6,"v":0},{"x":63,"y":6,"v":0},{"x":64,"y":6,"v":0},{"x":65,"y":6,"v":0},{"x":66,"y":6,"v":0},{"x":67,"y":6,"v":0},{"x":68,"y":6,"v":0},{"x":69,"y":6,"v":0},
{"x":70,"y":6,"v":0},{"x":71,"y":6,"v":0},{"x":72,"y":6,"v":0},{"x":73,"y":6,"v":0},{"x":74,"y":6,"v":0},{"x":75,"y":6,"v":0},{"x":76,"y":6,"v":0},{"x":77,"y":6,"v":0},{"x":78,"y":6,"v":0},{"x":79,"y":6,"v":0},
{"x":80,"y":6,"v":0},{"x":81,"y":6,"v":0},{"x":82,"y":6,"v":0},{"x":83,"y":6,"v":0},{"x":84,"y":6,"v":0},{"x":85,"y":6,"v":0},{"x":86,"y":6,"v":0},{"x":87,"y":6,"v":0},{"x":88,"y":6,"v":0},{"x":89,"y":6,"v":0},
{"x":90,"y":6,"v":0},{"x":91,"y":6,"v":0},{"x":92,"y":6,"v":0},{"x":93,"y":6,"v":0},{"x":94,"y":6,"v":0},{"x":95,"y":6,"v":0},{"x":96,"y":6,"v":0},{"x":97,"y":6,"v":0},{"x":98,"y":6,"v":0},{"x":99,"y":6,"v":0},
{"x":100,"y":6,"v":0},{"x":101,"y":6,"v":0},{"x":102,"y":6,"v":0},{"x":103,"y":6,"v":0},{"x":104,"y":6,"v":0},{"x":105,"y":6,"v":0},{"x":106,"y":6,"v":0},{"x":107,"y":6,"v":0},{"x":108,"y":6,"v":0},{"x":109,"y":6,"v":0},
{"x":110,"y":6,"v":0},{"x":111,"y":6,"v":0},{"x":112,"y":6,"v":0},{"x":113,"y":6,"v":0},{"x":114,"y":6,"v":0},{"x":115,"y":6,"v":0},{"x":116,"y":6,"v":0},{"x":117,"y":6,"v":0},{"x":118,"y":6,"v":0},{"x":119,"y":6,"v":0},
{"x":120,"y":6,"v":0},{"x":121,"y":6,"v":0},{"x":122,"y":6,"v":0},{"x":123,"y":6,"v":0},{"x":124,"y":6,"v":0},{"x":125,"y":6,"v":0},{"x":126,"y":6,"v":0},{"x":127,"y":6,"v":0},{"x":128,"y":6,"v":0},{"x":129,"y":6,"v":0},
{"x":130,"y":6,"v":0},{"x":131,"y":6,"v":0},{"x":132,"y":6,"v":0},{"x":133,"y":6,"v":0},{"x":134,"y":6,"v":0},{"x":135,"y":6,"v":0},{"x":136,"y":6,"v":0},{"x":137,"y":6,"v":0},{"x":138,"y":6,"v":0},{"x":139,"y":6,"v":0},
{"x":140,"y":6,"v":0},{"x":141,"y":6,"v":0},{"x":142,"y":6,"v":0},{"x":143,"y":6,"v":0},{"x":144,"y":6,"v":0},{"x":145,"y":6,"v":0},{"x":146,"y":6,"v":0},{"x":147,"y":6,"v":0},{"x":148,"y":6,"v":0},{"x":149,"y":6,"v":0},
{"x":150,"y":6,"v":0},{"x":151,"y":6,"v":0},{"x":152,"y":6,"v":0},{"x":153,"y":6,"v":0},{"x":154,"y":6,"v":0},{"x":155,"y":6,"v":0},{"x":156,"y":6,"v":0},{"x":157,"y":6,"v":0},{"x":158,"y":6,"v":0},{"x":159,"y":6,"v":0},
{"x":0,"y":7,"v":0},{"x":1,"y":7,"v":0},{"x":2,"y":7,"v":1},{"x":3,"y":7,"v":0},{"x":4,"y":7,"v":1},{"x":5,"y":7,"v":1},{"x":6,"y":7,"v":0},{"x":7,"y":7,"v":0},{"x":8,"y":7,"v":0},{"x":9,"y":7,"v":0},
{"x":10,"y":7,"v":0},{"x":11,"y":7,"v":0},{"x":12,"y":7,"v":0},{"x":13,"y":7,"v":1},{"x":14,"y":7,"v":0},{"x":15,"y":7,"v":1},{"x":16,"y":7,"v":1},{"x":17,"y":7,"v":1},{"x":18,"y":7,"v":1},{"x":19,"y":7,"v":1},
{"x":20,"y":7,"v":1},{"x":21,"y":7,"v":1},{"x":22,"y":7,"v":0},{"x":23,"y":7,"v":1},{"x":24,"y":7,"v":1},{"x":25,"y":7,"v":1},{"x":26,"y":7,"v":1},{"x":27,"y":7,"v":1},{"x":28,"y":7,"v":1},{"x":29,"y":7,"v":1},
{"x":30,"y":7,"v":1},{"x":31,"y":7,"v":1},{"x":32,"y":7,"v":1},{"x":33,"y":7,"v":1},{"x":34,"y":7,"v":1},{"x":35,"y":7,"v":1},{"x":36,"y":7,"v":1},{"x":37,"y":7,"v":1},{"x":38,"y":7,"v":1},{"x":39,"y":7,"v":1},
{"x":40,"y":7,"v":1},{"x":41,"y":7,"v":1},{"x":42,"y":7,"v":1},{"x":43,"y":7,"v":1},{"x":44,"y":7,"v":1},{"x":45,"y":7,"v":1},{"x":46,"y":7,"v":1},{"x":47,"y":7,"v":1},{"x":48,"y":7,"v":0.29},{"x":49,"y":7,"v":0.79},
{"x":50,"y":7,"v":1},{"x":51,"y":7,"v":1},{"x":52,"y":7,"v":1},{"x":53,"y":7,"v":1},{"x":54,"y":7,"v":1},{"x":55,"y":7,"v":1},{"x":56,"y":7,"v":1},{"x":57,"y":7,"v":1},{"x":58,"y":7,"v":1},{"x":59,"y":7,"v":1},
{"x":60,"y":7,"v":1},{"x":61,"y":7,"v":1},{"x":62,"y":7,"v":1},{"x":63,"y":7,"v":1},{"x":64,"y":7,"v":1},{"x":65,"y":7,"v":1},{"x":66,"y":7,"v":1},{"x":67,"y":7,"v":1},{"x":68,"y":7,"v":1},{"x":69,"y":7,"v":0.41},
{"x":70,"y":7,"v":0},{"x":71,"y":7,"v":0},{"x":72,"y":7,"v":0},{"x":73,"y":7,"v":0},{"x":74,"y":7,"v":0},{"x":75,"y":7,"v":0},{"x":76,"y":7,"v":0.22},{"x":77,"y":7,"v":1},{"x":78,"y":7,"v":0.62},{"x":79,"y":7,"v":0},
{"x":80,"y":7,"v":0},{"x":81,"y":7,"v":0},{"x":82,"y":7,"v":0},{"x":83,"y":7,"v":0.79},{"x":84,"y":7,"v":0.13},{"x":85,"y":7,"v":0},{"x":86,"y":7,"v":0},{"x":87,"y":7,"v":0},{"x":88,"y":7,"v":0},{"x":89,"y":7,"v":0},
{"x":90,"y":7,"v":0},{"x":91,"y":7,"v":0},{"x":92,"y":7,"v":0},{"x":93,"y":7,"v":0},{"x":94,"y":7,"v":0},{"x":95,"y":7,"v":0},{"x":96,"y":7,"v":0},{"x":97,"y":7,"v":0},{"x":98,"y":7,"v":0},{"x":99,"y":7,"v":0},
{"x":100,"y":7,"v":0},{"x":101,"y":7,"v":0},{"x":102,"y":7,"v":0},{"x":103,"y":7,"v":0},{"x":104,"y":7,"v":0.61},{"x":105,"y":7,"v":0.29},{"x":106,"y":7,"v":0.82},{"x":107,"y":7,"v":0.13},{"x":108,"y":7,"v":0.94},{"x":109,"y":7,"v":1},
{"x":110,"y":7,"v":1},{"x":111,"y":7,"v":0.72},{"x":112,"y":7,"v":0},{"x":113,"y":7,"v":0.45},{"x":114,"y":7,"v":0.49},{"x":115,"y":7,"v":0.61},{"x":116,"y":7,"v":0.33},{"x":117,"y":7,"v":0},{"x":118,"y":7,"v":0},{"x":119,"y":7,"v":0},
{"x":120,"y":7,"v":0},{"x":121,"y":7,"v":0},{"x":122,"y":7,"v":1},{"x":123,"y":7,"v":0},{"x":124,"y":7,"v":1},{"x":125,"y":7,"v":1},{"x":126,"y":7,"v":1},{"x":127,"y":7,"v":1},{"x":128,"y":7,"v":1},{"x":129,"y":7,"v":1},
{"x":130,"y":7,"v":1},{"x":131,"y":7,"v":1},{"x":132,"y":7,"v":1},{"x":133,"y":7,"v":1},{"x":134,"y":7,"v":1},{"x":135,"y":7,"v":1},{"x":136,"y":7,"v":1},{"x":137,"y":7,"v":1},{"x":138,"y":7,"v":1},{"x":139,"y":7,"v":1},
{"x":140,"y":7,"v":1},{"x":141,"y":7,"v":1},{"x":142,"y":7,"v":0},{"x":143,"y":7,"v":1},{"x":144,"y":7,"v":0},{"x":145,"y":7,"v":1},{"x":146,"y":7,"v":1},{"x":147,"y":7,"v":0},{"x":148,"y":7,"v":0},{"x":149,"y":7,"v":1},
{"x":150,"y":7,"v":1},{"x":151,"y":7,"v":1},{"x":152,"y":7,"v":0},{"x":153,"y":7,"v":0},{"x":154,"y":7,"v":0},{"x":155,"y":7,"v":0},{"x":156,"y":7,"v":0},{"x":157,"y":7,"v":0},{"x":158,"y":7,"v":0},{"x":159,"y":7,"v":0}
]}
}
